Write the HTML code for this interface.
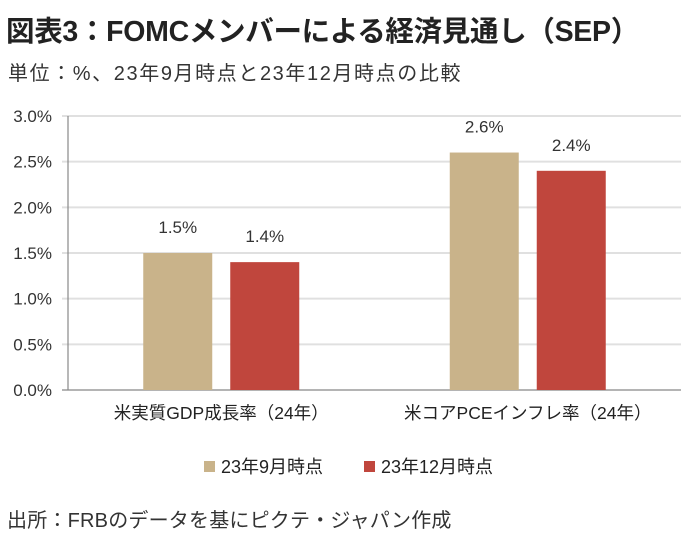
<!DOCTYPE html>
<html><head><meta charset="utf-8"><style>
body{margin:0;width:686px;height:544px;background:#fff;overflow:hidden;font-family:"Liberation Sans","Noto Sans CJK JP",sans-serif;color:#222}
.t{position:absolute;white-space:nowrap}
</style></head><body>
<div class="t" style="left:6px;top:9px;font-size:28.5px;font-weight:bold;letter-spacing:-0.3px">図表3：FOMCメンバーによる経済見通し（SEP）</div>
<div class="t" style="left:8px;top:57px;font-size:20px;color:#333;letter-spacing:1.6px">単位：%、23年9月時点と23年12月時点の比較</div>
<svg id="c" width="686" height="544" style="position:absolute;left:0;top:0"></svg>
<div class="t" style="left:7px;top:504px;font-size:20px;color:#333;letter-spacing:0.2px">出所：FRBのデータを基にピクテ・ジャパン作成</div>
<script>
const categories=["米実質GDP成長率（24年）","米コアPCEインフレ率（24年）"];
const sep2309=[1.5,2.6];
const sep2312=[1.4,2.4];
const seriesNames=["23年9月時点","23年12月時点"];
const ticks=[0,0.5,1,1.5,2,2.5,3];
const colors=["#c9b38a","#c0463d"];
const svg=document.getElementById('c');const NS='http://www.w3.org/2000/svg';
const x0=68,x1=681,y0=390,y1=116;
const y=v=>y0-(v/3)*(y0-y1);
const band=(x1-x0)/categories.length;
const cx=i=>x0+band*(i+0.5);
function el(t,a,txt){const e=document.createElementNS(NS,t);for(const k in a)e.setAttribute(k,a[k]);if(txt!=null)e.textContent=txt;svg.appendChild(e);return e;}
ticks.forEach(t=>{
 const g=el('line',{x1:62,x2:x1,y1:y(t),y2:y(t),stroke:t===0?'#888':'#e0e0e0','stroke-width':t===0?1.2:2});
 
 
 const l=el('text',{x:52,y:y(t)+6,'text-anchor':'end','font-size':17,fill:'#333'},t.toFixed(1)+'%');
 
 
});
const ax=el('line',{x1:x0,x2:x0,y1:y1,y2:y0,stroke:'#888','stroke-width':1.2});


[sep2309,sep2312].forEach((s,si)=>{
 s.forEach((v,i)=>{
  const bx=cx(i)-78+si*87;
  const r=el('rect',{x:bx,y:y(v),width:69,height:y0-y(v),fill:colors[si]});
  
  
  const lb=el('text',{x:bx+34.5,y:y(v)-20,'text-anchor':'middle','font-size':17,fill:'#333'},v.toFixed(1)+'%');
  
  
 });
});
categories.forEach((c,i)=>{
 const t=el('text',{x:cx(i),y:419,'text-anchor':'middle','font-size':17.5,fill:'#222'},c);
 
 
});
const lx=[204,364];
seriesNames.forEach((n,i)=>{
 const r=el('rect',{x:lx[i],y:461,width:11,height:11,fill:colors[i]});
 
 
 const t=el('text',{x:lx[i]+17,y:473,'font-size':18,fill:'#222'},n);
 
 
});
</script>
</body></html>
